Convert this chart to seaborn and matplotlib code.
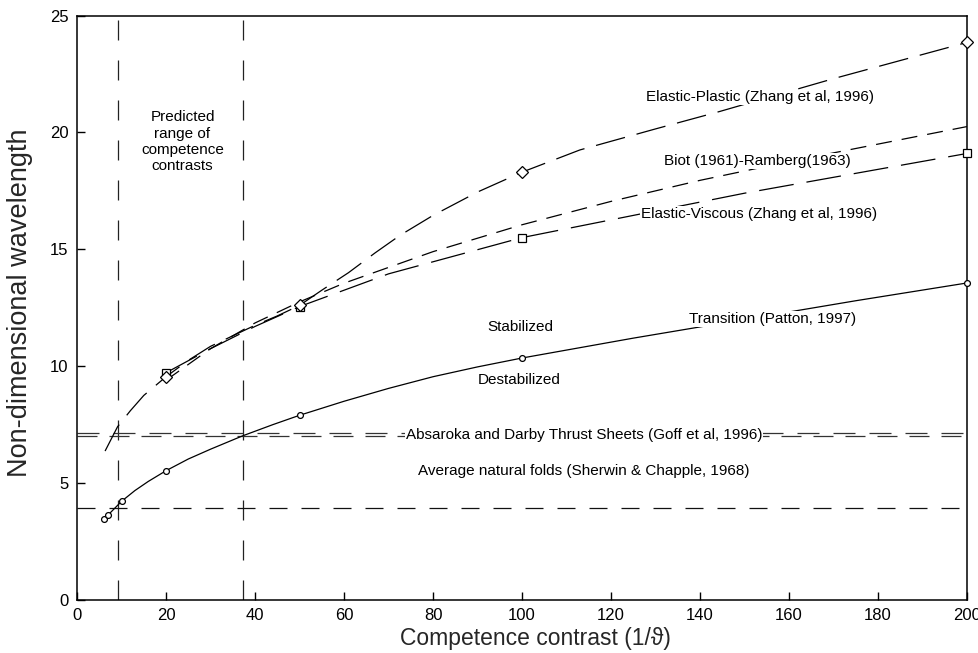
import numpy as np
import pandas as pd
import matplotlib
matplotlib.use("Agg")
import matplotlib.pyplot as plt
import seaborn as sns

# ---- data ----
# Transition (Patton, 1997) - solid curve with open circles
trans_x = [6, 7, 10, 13, 16, 20, 25, 30, 37.2, 44, 50, 60, 70, 80, 90, 100, 125, 150, 175, 200]
trans_y = [3.45, 3.64, 4.22, 4.68, 5.07, 5.53, 6.03, 6.45, 7.02, 7.5, 7.9, 8.5, 9.05, 9.55,
           9.97, 10.35, 11.2, 12.0, 12.8, 13.56]
trans_mx = [6, 7, 10, 20, 50, 100, 200]
trans_my = [3.45, 3.64, 4.22, 5.53, 7.9, 10.35, 13.56]

# Elastic-Plastic (Zhang et al, 1996) - long dash with diamonds
ep_x = [6.3, 9.1, 12, 15, 20, 25, 30, 40, 45, 50, 55, 61, 67, 72.6, 80, 90, 100, 113, 130,
        144.5, 170, 200]
ep_y = [6.37, 7.41, 8.1, 8.75, 9.55, 10.25, 10.85, 11.75, 12.15, 12.6, 13.25, 14.0, 14.85,
        15.6, 16.45, 17.45, 18.3, 19.25, 20.15, 20.9, 22.3, 23.85]
ep_mx = [20, 50, 100, 200]
ep_my = [9.55, 12.6, 18.3, 23.85]

# Biot (1961)-Ramberg(1963) - dashed, no markers
biot_x = [20, 30, 40, 50, 60, 80, 100, 120, 140, 160, 180, 200]
biot_y = [9.4, 10.75, 11.85, 12.75, 13.55, 14.9, 16.05, 17.05, 17.95, 18.75, 19.5, 20.25]

# Elastic-Viscous (Zhang et al, 1996) - long dash with squares
ev_x = [20, 30, 40, 50, 70, 100, 150, 200]
ev_y = [9.72, 10.75, 11.7, 12.55, 13.95, 15.5, 17.4, 19.1]
ev_mx = [20, 50, 100, 200]
ev_my = [9.72, 12.55, 15.5, 19.1]

# reference lines
absaroka_y = [7.0, 7.13]
natural_folds_y = 3.95
predicted_range_x = [9.1, 37.2]

x_ticks = [0, 20, 40, 60, 80, 100, 120, 140, 160, 180, 200]
y_ticks = [0, 5, 10, 15, 20, 25]

# ---- styling ----
sns.set_style("ticks")
plt.rcParams['font.family'] = ['Liberation Sans', 'DejaVu Sans']
plt.rcParams['lines.scale_dashes'] = False

fig = plt.figure(figsize=(9.79, 6.53), dpi=100)
ax = fig.add_axes([0.0787, 0.0812, 0.9090, 0.8950])

px = 0.72  # points per pixel at dpi 100

def dash(on, off):
    return (on * px, off * px)

# vertical predicted range lines
for xv in predicted_range_x:
    ax.plot([xv, xv], [0, 25], color="#222222", lw=0.9,
            dashes=dash(20, 20), dash_capstyle="butt")

# horizontal lines
ax.plot([0, 200], [absaroka_y[0]] * 2, color="#333333", lw=0.9, dashes=dash(20, 12))
ax.plot([0, 200], [absaroka_y[1]] * 2, color="#333333", lw=0.9, dashes=dash(22, 14))
ax.plot([0, 200], [natural_folds_y] * 2, color="#111111", lw=0.9, dashes=dash(18, 14))

df_t = pd.DataFrame({"x": trans_x, "y": trans_y})
df_ep = pd.DataFrame({"x": ep_x, "y": ep_y})
df_b = pd.DataFrame({"x": biot_x, "y": biot_y})
df_ev = pd.DataFrame({"x": ev_x, "y": ev_y})

sns.lineplot(data=df_t, x="x", y="y", ax=ax, color="black", lw=0.9, sort=False)
sns.lineplot(data=df_ep, x="x", y="y", ax=ax, color="black", lw=0.9, sort=False)
ax.lines[-1].set_dashes(dash(30, 12))
sns.lineplot(data=df_b, x="x", y="y", ax=ax, color="black", lw=0.9, sort=False)
ax.lines[-1].set_dashes(dash(16, 10))
sns.lineplot(data=df_ev, x="x", y="y", ax=ax, color="black", lw=0.9, sort=False)
ax.lines[-1].set_dashes(dash(35, 13))

# markers
ax.plot(trans_mx, trans_my, ls="none", marker="o", ms=4.2, mfc="white", mec="black",
        mew=0.9, zorder=5, clip_on=False)
ax.plot(ev_mx, ev_my, ls="none", marker="s", ms=6, mfc="white", mec="black",
        mew=0.9, zorder=5, clip_on=False)
ax.plot(ep_mx, ep_my, ls="none", marker="D", ms=6, mfc="white", mec="black",
        mew=0.9, zorder=6, clip_on=False)

# labels
tkw = dict(ha="center", va="center", fontsize=11, color="black", zorder=7)
bb = dict(facecolor="white", edgecolor="none", pad=0.5)
ax.text(23.7, 19.6, "Predicted\nrange of\ncompetence\ncontrasts", linespacing=1.2, **tkw)
ax.text(153.5, 21.5, "Elastic-Plastic (Zhang et al, 1996)", bbox=bb, **tkw)
ax.text(152.8, 18.78, "Biot (1961)-Ramberg(1963)", bbox=bb, **tkw)
ax.text(153.2, 16.5, "Elastic-Viscous (Zhang et al, 1996)", bbox=bb, **tkw)
ax.text(156.4, 12.02, "Transition (Patton, 1997)", bbox=bb, **tkw)
ax.text(99.6, 11.69, "Stabilized", **tkw)
ax.text(99.4, 9.41, "Destabilized", **tkw)
ax.text(114.0, 7.06, "Absaroka and Darby Thrust Sheets (Goff et al, 1996)", bbox=bb, **tkw)
ax.text(113.8, 5.53, "Average natural folds (Sherwin & Chapple, 1968)", **tkw)

ax.set_xlim(0, 200)
ax.set_ylim(0, 25)
ax.set_xticks(x_ticks)
ax.set_yticks(y_ticks)
ax.tick_params(direction="in", length=6, width=1.0, labelsize=12, colors="black",
               top=False, right=False, pad=6)
for s in ax.spines.values():
    s.set_linewidth(1.1)
    s.set_color("black")
    s.set_visible(True)

ax.set_xlabel("Competence contrast (1/\u03d1)", fontsize=16.5)
ax.set_ylabel("Non-dimensional wavelength", fontsize=19.5)
ax.xaxis.set_label_coords(0.515, -0.047)
ax.yaxis.set_label_coords(-0.049, 0.508)

fig.savefig("out.png", dpi=100)
